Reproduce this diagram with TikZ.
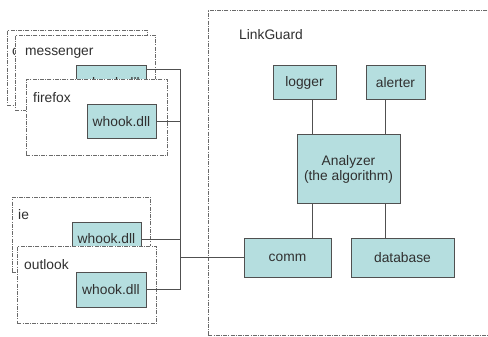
\documentclass[tikz,border=0pt]{standalone}
\usepackage{fontspec}
\setmainfont{Liberation Sans}
\begin{document}
\begin{tikzpicture}[x=1pt,y=-1pt,
  every node/.style={font=\fontsize{13.8}{15}\selectfont, text=txt},
  comp/.style={draw=bdr, fill=cyanfill, line width=1pt, inner sep=0pt},
  proc/.style={draw=dsh, fill=white, line width=0.9pt, dash pattern=on 4pt off 1.2pt on 1pt off 1.2pt, inner sep=0pt},
  lbl/.style={anchor=west, inner sep=0pt},
  wire/.style={draw=bdr, line width=1pt}]
\definecolor{cyanfill}{HTML}{B5DEDF}
\definecolor{bdr}{HTML}{505050}
\definecolor{dsh}{HTML}{6A6A6A}
\definecolor{txt}{HTML}{303030}
\useasboundingbox (0,0) rectangle (488,337);

% LinkGuard container (right edge lies outside the picture)
\node[proc, minimum width=292pt, minimum height=324pt, anchor=north west] (lg) at (208,10.5) {};
\node[lbl] (lgl) at (239,35) {LinkGuard};

% components
\node[comp, minimum width=63pt, minimum height=34pt] (logger) at (304.5,83) {logger};
\node[comp, minimum width=59pt, minimum height=34pt] (alerter) at (395.5,83) {alerter};
\node[comp, minimum width=103pt, minimum height=68pt, align=center] (an) at (348.5,169) {Analyzer\\(the algorithm)};
\node[comp, minimum width=87pt, minimum height=39pt] (comm) at (287.5,257.5) {comm};
\node[comp, minimum width=103pt, minimum height=39pt] (db) at (402.5,257.5) {database};

\coordinate (xa) at (312,0);
\coordinate (xb) at (385,0);
\draw[wire] (logger.south -| xa) -- (an.north -| xa);
\draw[wire] (alerter.south -| xb) -- (an.north -| xb);
\draw[wire] (an.south -| xa) -- (comm.north -| xa);
\draw[wire] (an.south -| xb) -- (db.north -| xb);

% back process
\node[proc, minimum width=140pt, minimum height=75pt, anchor=north west] (bp) at (7,30) {};
\node[lbl] (bpl) at (12,52) {c};
% messenger
\node[proc, minimum width=140pt, minimum height=75pt, anchor=north west] (mp) at (15,35) {};
\node[lbl] (mpl) at (25,53) {messenger};
\node[comp, minimum width=70pt, minimum height=34pt] (mw) at (111,83) {whook.dll};
% firefox
\node[proc, minimum width=141pt, minimum height=76pt, anchor=north west] (fp) at (26,79) {};
\node[lbl] (fpl) at (33,98) {firefox};
\node[comp, minimum width=69pt, minimum height=34pt] (fw) at (121.5,122) {whook.dll};
% ie
\node[proc, minimum width=138pt, minimum height=75pt, anchor=north west] (ip) at (12,197) {};
\node[lbl] (ipl) at (18,215) {ie};
\node[comp, minimum width=69pt, minimum height=34pt] (iw) at (106.5,239) {whook.dll};
% outlook
\node[proc, minimum width=139pt, minimum height=77pt, anchor=north west] (op) at (17,246) {};
\node[lbl] (opl) at (24,265) {outlook};
\node[comp, minimum width=70pt, minimum height=35pt] (ow) at (111,289.5) {whook.dll};

% bus
\coordinate (bus) at (180,0);
\coordinate (mwy) at (0,70);
\draw[wire] (mw.east |- mwy) -- (bus |- mwy) -- (bus |- ow.east) -- (ow.east);
\draw[wire] (fw.east) -- (bus |- fw.east);
\draw[wire] (iw.east) -- (bus |- iw.east);
\draw[wire] (bus |- comm.west) -- (comm.west);
\end{tikzpicture}
\end{document}
